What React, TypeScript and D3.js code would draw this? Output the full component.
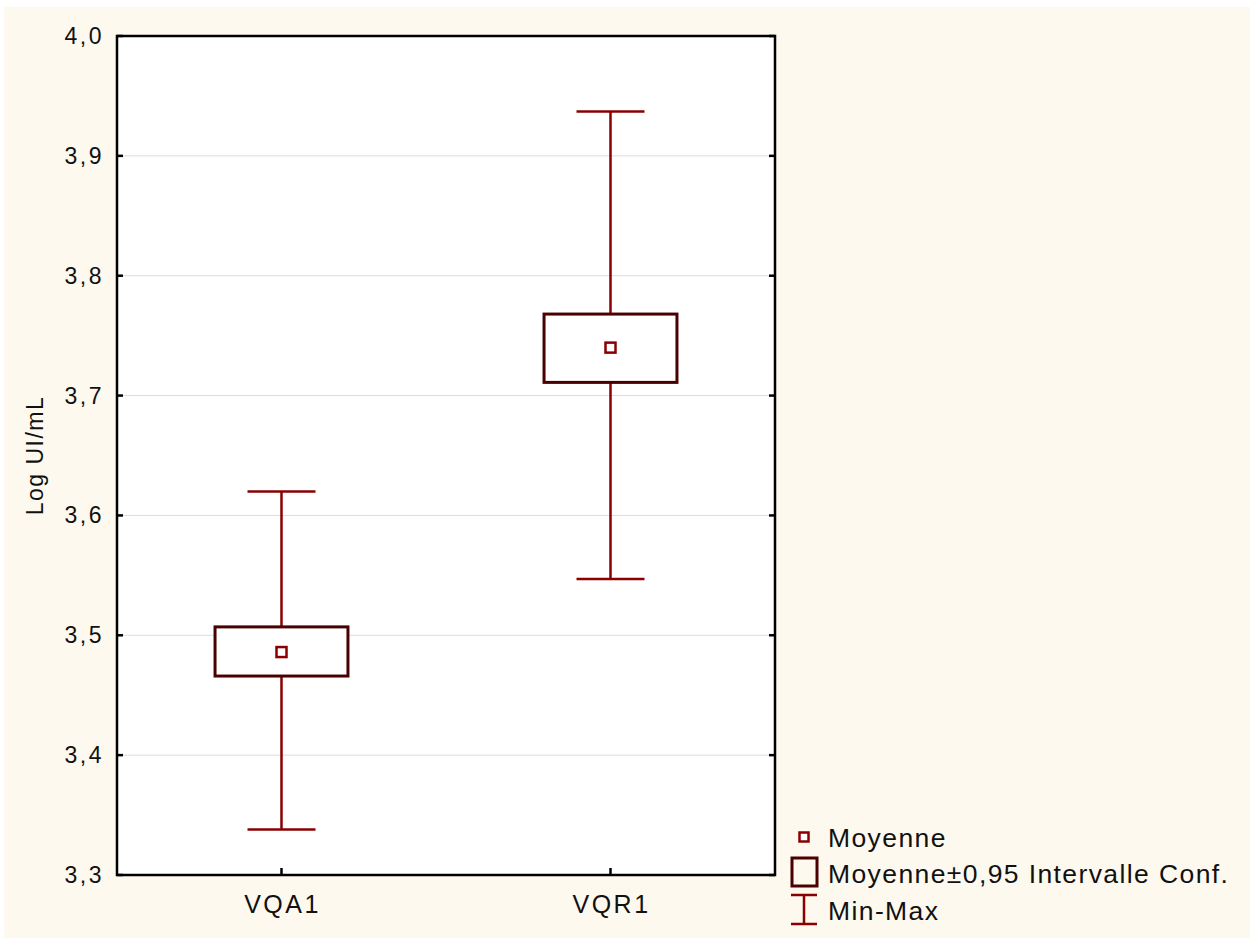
import React from 'react';
import * as d3 from 'd3';

// values (Log UI/mL)
const categories = ['VQA1', 'VQR1'];
const means = [3.486, 3.740];
const ciLow = [3.466, 3.711];
const ciHigh = [3.507, 3.768];
const mins = [3.338, 3.547];
const maxs = [3.620, 3.937];
const yTicks = [3.3, 3.4, 3.5, 3.6, 3.7, 3.8, 3.9, 4.0];
const legendLabels = ['Moyenne', 'Moyenne±0,95 Intervalle Conf.', 'Min-Max'];

const WIDTH = 1250;
const HEIGHT = 938;
const margin = { top: 36, right: 475, bottom: 63, left: 117 };
const font = '"Liberation Sans", Arial, sans-serif';
const whiskerColor = '#8a0000';
const boxColor = '#4a0000';

const App = () => {
  const x = d3
    .scalePoint<string>()
    .domain(categories)
    .range([margin.left, WIDTH - margin.right])
    .padding(0.5);

  const y = d3
    .scaleLinear()
    .domain([3.3, 4.0])
    .range([HEIGHT - margin.bottom, margin.top]);

  const x0 = margin.left;
  const x1 = WIDTH - margin.right;
  const y0 = HEIGHT - margin.bottom;
  const y1 = margin.top;
  const boxW = x.step() * 0.404;
  const capW = 68;
  const meanSize = 10;
  const fmt = (v: number) => v.toFixed(1).replace('.', ',');

  const legendX = 791;
  const legendRows = [847, 883, 920];

  return (
    <svg
      width={WIDTH}
      height={HEIGHT}
      style={{ position: 'absolute', left: 0, top: 0, background: '#fff' }}
      fontFamily={font}
    >
      <rect x={4} y={7} width={WIDTH - 4} height={HEIGHT - 7} fill="#fdf9ef" />
      <rect x={x0} y={y1} width={x1 - x0} height={y0 - y1} fill="#fff" />

      {/* grid */}
      <g stroke="#dcdcdc" strokeWidth={1}>
        {yTicks.slice(1, -1).map((t) => (
          <line key={t} x1={x0} x2={x1} y1={y(t)} y2={y(t)} />
        ))}
      </g>

      {/* whiskers */}
      <g stroke={whiskerColor} strokeWidth={2.5} fill="none">
        {categories.map((c, i) => {
          const cx = x(c) || 0;
          return (
            <g key={c}>
              <line x1={cx} x2={cx} y1={y(maxs[i])} y2={y(mins[i])} />
              <line x1={cx - capW / 2} x2={cx + capW / 2} y1={y(maxs[i])} y2={y(maxs[i])} />
              <line x1={cx - capW / 2} x2={cx + capW / 2} y1={y(mins[i])} y2={y(mins[i])} />
            </g>
          );
        })}
      </g>

      {/* confidence boxes */}
      <g stroke={boxColor} strokeWidth={3} fill="#fff">
        {categories.map((c, i) => (
          <rect
            key={c}
            x={(x(c) || 0) - boxW / 2}
            y={y(ciHigh[i])}
            width={boxW}
            height={y(ciLow[i]) - y(ciHigh[i])}
          />
        ))}
      </g>

      {/* means */}
      <g stroke={whiskerColor} strokeWidth={2.5} fill="#fff">
        {categories.map((c, i) => (
          <rect
            key={c}
            x={(x(c) || 0) - meanSize / 2}
            y={y(means[i]) - meanSize / 2}
            width={meanSize}
            height={meanSize}
          />
        ))}
      </g>

      {/* frame and ticks */}
      <g stroke="#000" strokeWidth={2.5}>
        <rect x={x0} y={y1} width={x1 - x0} height={y0 - y1} fill="none" />
        {yTicks.map((t) => (
          <g key={t}>
            <line x1={x0} x2={x0 + 6} y1={y(t)} y2={y(t)} />
            <line x1={x1} x2={x1 - 6} y1={y(t)} y2={y(t)} />
          </g>
        ))}
        {categories.map((c) => (
          <line key={c} x1={x(c)} x2={x(c)} y1={y0} y2={y0 - 7} />
        ))}
      </g>

      {/* tick labels */}
      <g fontSize={23} fill="#111" textAnchor="end" letterSpacing={2.5}>
        {yTicks.map((t) => (
          <text key={t} x={x0 - 13} y={y(t) + 8}>
            {fmt(t)}
          </text>
        ))}
      </g>
      <g fontSize={25} fill="#111" textAnchor="middle" letterSpacing={2.5}>
        {categories.map((c) => (
          <text key={c} x={(x(c) || 0) + 1} y={913}>
            {c}
          </text>
        ))}
      </g>

      <text
        transform={`translate(43,${(y0 + y1) / 2}) rotate(-90)`}
        textAnchor="middle"
        fontSize={23}
        letterSpacing={1.5}
        fill="#111"
      >
        Log UI/mL
      </text>

      {/* legend */}
      <g>
        <rect
          x={legendX + 13 - 4.5}
          y={legendRows[0] - 10 - 4.5}
          width={9}
          height={9}
          fill="#fff"
          stroke={whiskerColor}
          strokeWidth={2.5}
        />
        <rect
          x={legendX + 1}
          y={858}
          width={25}
          height={28}
          fill="none"
          stroke={boxColor}
          strokeWidth={3}
        />
        <g stroke={whiskerColor} strokeWidth={2.5}>
          <line x1={legendX} x2={legendX + 26} y1={895} y2={895} />
          <line x1={legendX} x2={legendX + 26} y1={924} y2={924} />
          <line x1={legendX + 13} x2={legendX + 13} y1={895} y2={924} />
        </g>
        <g fontSize={26.5} fill="#111" letterSpacing={1.4}>
          {legendLabels.map((l, i) => (
            <text key={l} x={828} y={legendRows[i]}>
              {l}
            </text>
          ))}
        </g>
      </g>
    </svg>
  );
};

export default App;
